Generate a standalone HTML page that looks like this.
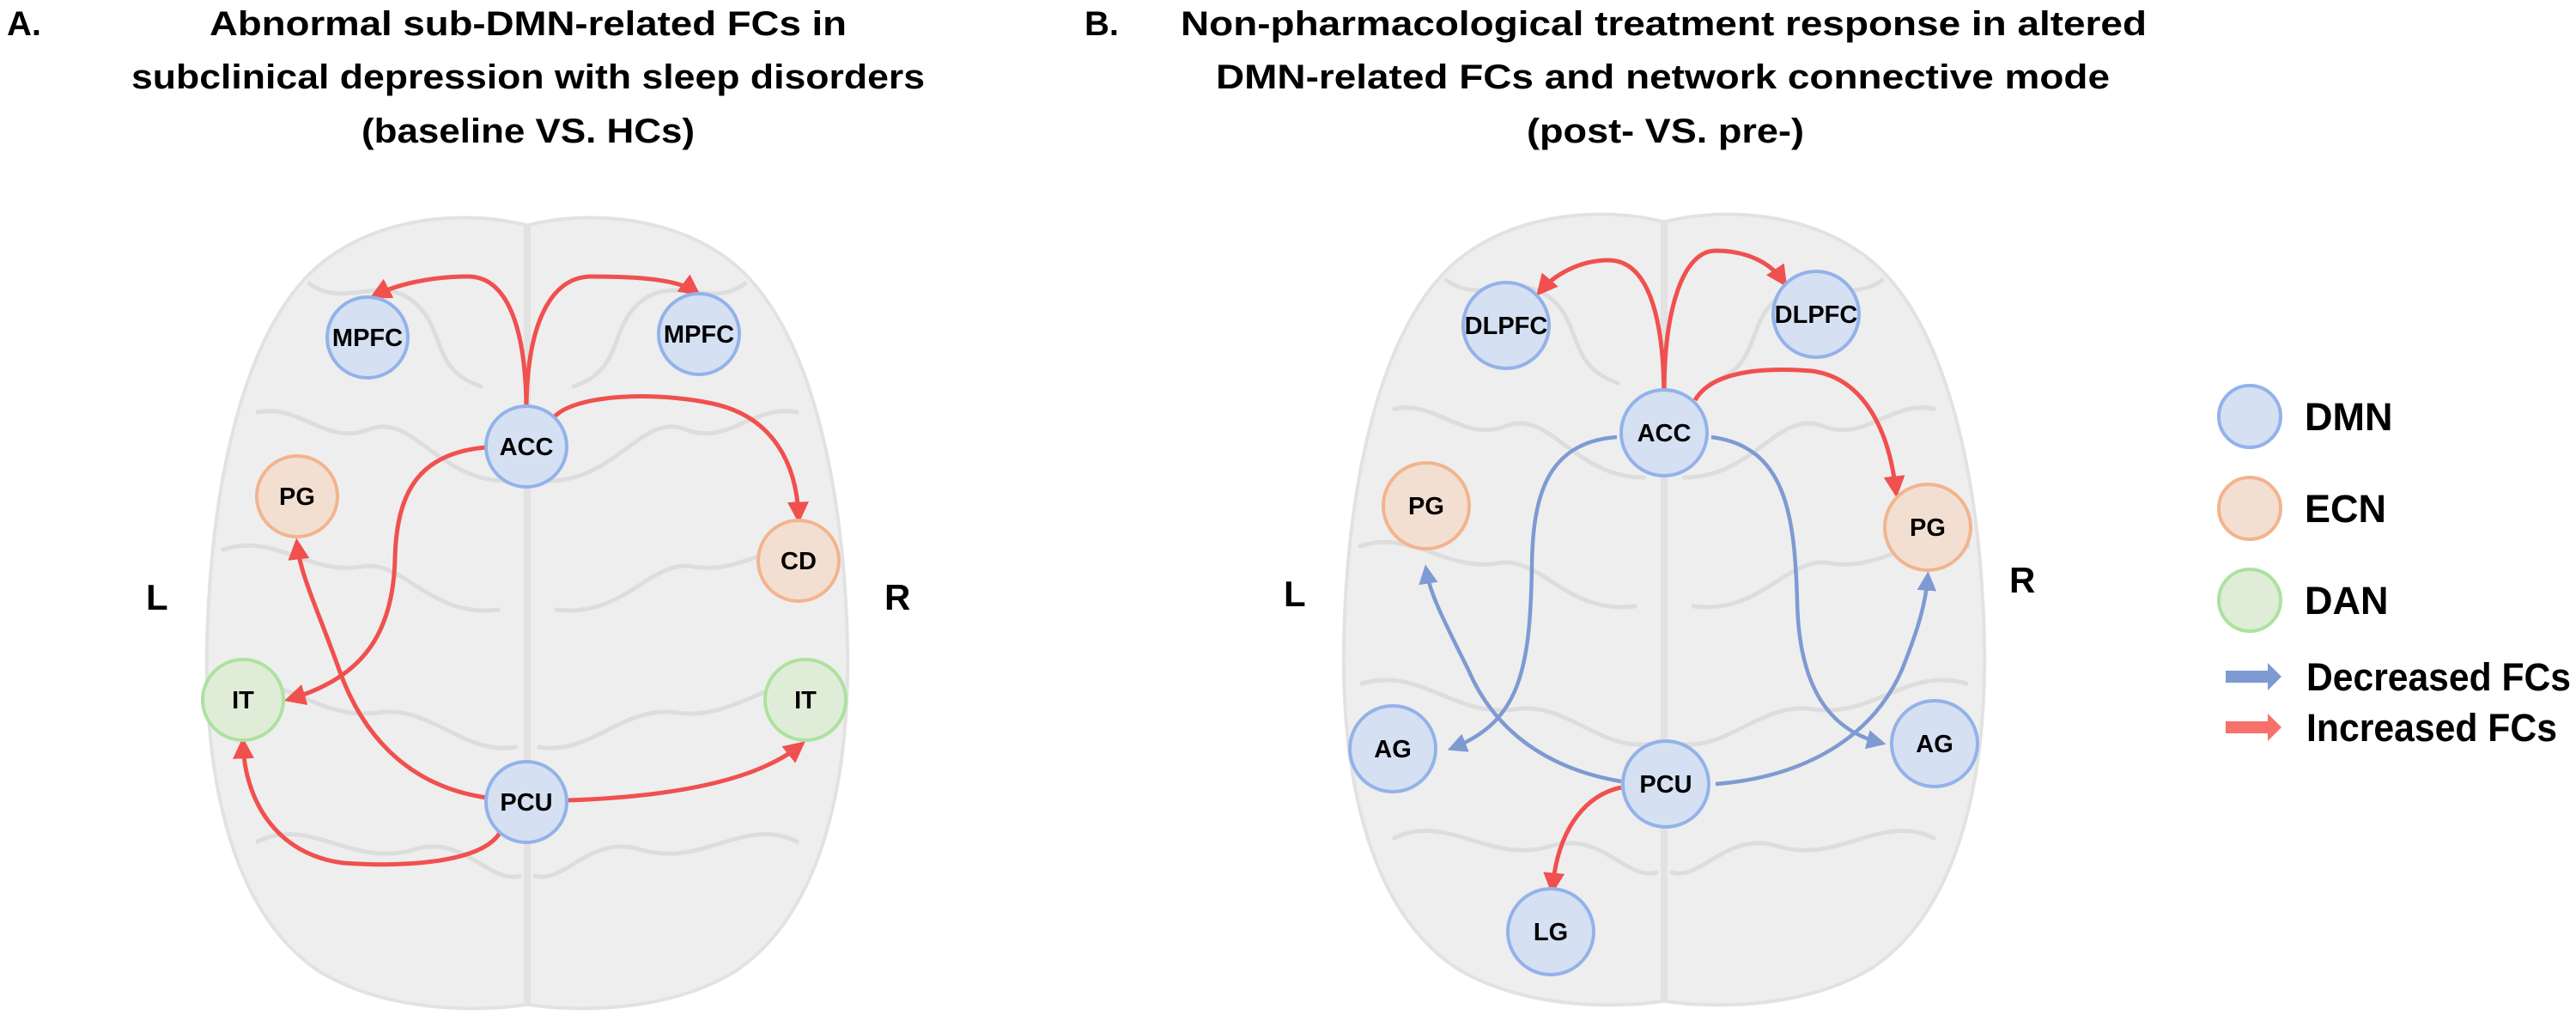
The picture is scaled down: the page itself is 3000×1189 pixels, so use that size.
<!DOCTYPE html>
<html><head><meta charset="utf-8"><style>
html,body{margin:0;padding:0;background:#fff;}
svg{display:block;}
text{font-family:"Liberation Sans",sans-serif;font-weight:bold;fill:#000;}
</style></head><body>
<svg width="3000" height="1189" viewBox="0 0 3000 1189" xmlns="http://www.w3.org/2000/svg">
<defs>
<marker id="ar" markerWidth="5" markerHeight="5" refX="3.5" refY="2.5" orient="auto" markerUnits="strokeWidth"><path d="M0,0 L5,2.5 L0,5 Z" fill="#f0504e"/></marker>
<marker id="ab" markerWidth="5" markerHeight="5" refX="3.5" refY="2.5" orient="auto" markerUnits="strokeWidth"><path d="M0,0 L5,2.5 L0,5 Z" fill="#7e9ad2"/></marker>
<g id="brain">
<path d="M612,262 C545,245 440,250 370,310 C290,380 250,540 242,720 C234,900 268,1060 370,1130 C450,1180 560,1178 612,1170 Z" fill="#eeeeee" stroke="#e2e2e2" stroke-width="4"/>
<path d="M616,262 C683,245 788,250 858,310 C938,380 978,540 986,720 C994,900 960,1060 858,1130 C778,1180 668,1178 616,1170 Z" fill="#eeeeee" stroke="#e2e2e2" stroke-width="4"/>
<g fill="none" stroke="#dddddd" stroke-width="5" stroke-linecap="round">
<path d="M360,330 C400,360 440,320 480,350 C520,380 500,430 560,450"/>
<path d="M300,480 C350,470 380,520 430,500 C480,480 510,560 590,560"/>
<path d="M260,640 C320,620 360,670 420,660 C470,650 500,720 580,710"/>
<path d="M262,800 C330,780 370,840 440,830 C500,820 540,880 600,870"/>
<path d="M300,980 C360,950 410,1010 480,990 C540,970 570,1030 605,1020"/>
<path d="M868,330 C828,360 788,320 748,350 C708,380 728,430 668,450"/>
<path d="M928,480 C878,470 848,520 798,500 C748,480 718,560 638,560"/>
<path d="M968,640 C908,620 868,670 808,660 C758,650 728,720 648,710"/>
<path d="M966,800 C898,780 858,840 788,830 C728,820 688,880 628,870"/>
<path d="M928,980 C868,950 818,1010 748,990 C688,970 658,1030 623,1020"/>
</g>
</g>
</defs>

<text x="8" y="41" font-size="40">A.</text>
<text x="244" y="41" font-size="40" textLength="742" lengthAdjust="spacingAndGlyphs">Abnormal sub-DMN-related FCs in</text>
<text x="153" y="103" font-size="40" textLength="924" lengthAdjust="spacingAndGlyphs">subclinical depression with sleep disorders</text>
<text x="421" y="166" font-size="40" textLength="388" lengthAdjust="spacingAndGlyphs">(baseline VS. HCs)</text>

<text x="1263" y="41" font-size="40">B.</text>
<text x="1375" y="41" font-size="40" textLength="1125" lengthAdjust="spacingAndGlyphs">Non-pharmacological treatment response in altered</text>
<text x="1416" y="103" font-size="40" textLength="1041" lengthAdjust="spacingAndGlyphs">DMN-related FCs and network connective mode</text>
<text x="1778" y="166" font-size="40" textLength="323" lengthAdjust="spacingAndGlyphs">(post- VS. pre-)</text>

<use href="#brain"/>
<use href="#brain" transform="translate(1324,-4)"/>

<text x="170" y="710" font-size="42">L</text>
<text x="1030" y="710" font-size="42">R</text>
<text x="1495" y="706" font-size="42">L</text>
<text x="2340" y="690" font-size="42">R</text>

<g fill="none" stroke="#f0504e" stroke-width="5" marker-end="url(#ar)">
<path d="M613,474 C612,380 590,322 545,322 C500,322 460,332 437,344"/>
<path d="M613,474 C614,380 640,322 689,322 C740,322 790,325 810,340"/>
<path d="M646,485 C670,460 760,455 830,470 C900,485 928,540 930,602"/>
<path d="M565,521 C490,528 462,570 460,650 C458,740 420,790 338,814"/>
<path d="M567,929 C470,915 420,850 395,780 C370,710 350,670 346,634"/>
<path d="M582,970 C560,1005 470,1010 400,1005 C320,995 285,930 283,866"/>
<path d="M660,932 C780,928 880,910 932,868"/>
</g>

<g fill="none" stroke="#7e9ad2" stroke-width="4.5" marker-end="url(#ab)">
<path d="M1883,509 C1800,515 1785,580 1784,660 C1782,780 1770,840 1692,871"/>
<path d="M1993,509 C2080,520 2090,600 2093,700 C2095,800 2130,850 2190,865"/>
<path d="M1888,910 C1800,895 1740,850 1710,780 C1680,720 1665,690 1661,664"/>
<path d="M1998,913 C2100,905 2180,860 2215,780 C2235,730 2243,700 2245,672"/>
</g>
<g fill="none" stroke="#f0504e" stroke-width="5" marker-end="url(#ar)">
<path d="M1938,459 C1937,370 1920,303 1873,303 C1840,303 1810,320 1794,339"/>
<path d="M1938,459 C1938,360 1960,292 1998,292 C2040,292 2065,310 2077,328"/>
<path d="M1974,466 C1995,430 2060,428 2110,432 C2170,440 2200,500 2208,572"/>
<path d="M1888,917 C1850,925 1815,960 1808,1034"/>
</g>

<g stroke-width="4">
<g fill="#d5e0f2" stroke="#93b2ea">
<circle cx="428" cy="393" r="47"/><circle cx="814" cy="389" r="47"/>
<circle cx="613" cy="520" r="47"/><circle cx="613" cy="934" r="47"/>
<circle cx="1754" cy="379" r="50"/><circle cx="2115" cy="366" r="50"/>
<circle cx="1938" cy="504" r="50"/><circle cx="1622" cy="872" r="50"/>
<circle cx="2253" cy="866" r="50"/><circle cx="1940" cy="913" r="50"/>
<circle cx="1806" cy="1085" r="50"/>
<circle cx="2620" cy="485" r="36"/>
</g>
<g fill="#f3dfd1" stroke="#f2b48e">
<circle cx="346" cy="578" r="47"/><circle cx="930" cy="653" r="47"/>
<circle cx="1661" cy="589" r="50"/><circle cx="2245" cy="614" r="50"/>
<circle cx="2620" cy="592" r="36"/>
</g>
<g fill="#dfedd8" stroke="#ace29e">
<circle cx="283" cy="815" r="47"/><circle cx="938" cy="815" r="47"/>
<circle cx="2620" cy="699" r="36"/>
</g>
</g>

<g font-size="29" text-anchor="middle">
<text x="428" y="403">MPFC</text><text x="814" y="399">MPFC</text>
<text x="613" y="530">ACC</text><text x="613" y="944">PCU</text>
<text x="346" y="588">PG</text><text x="930" y="663">CD</text>
<text x="283" y="825">IT</text><text x="938" y="825">IT</text>
<text x="1754" y="389">DLPFC</text><text x="2115" y="376">DLPFC</text>
<text x="1938" y="514">ACC</text><text x="1940" y="923">PCU</text>
<text x="1661" y="599">PG</text><text x="2245" y="624">PG</text>
<text x="1622" y="882">AG</text><text x="2253" y="876">AG</text>
<text x="1806" y="1095">LG</text>
</g>

<g font-size="45">
<text x="2684" y="501">DMN</text>
<text x="2684" y="608">ECN</text>
<text x="2684" y="715">DAN</text>
<text x="2686" y="804" textLength="308" lengthAdjust="spacingAndGlyphs">Decreased FCs</text>
<text x="2686" y="863" textLength="292" lengthAdjust="spacingAndGlyphs">Increased FCs</text>
</g>
<path d="M2592,781 L2641,781 L2641,772 L2657,788 L2641,804 L2641,795 L2592,795 Z" fill="#7e9ad2"/>
<path d="M2592,840 L2641,840 L2641,831 L2657,847 L2641,863 L2641,854 L2592,854 Z" fill="#f6706c"/>
</svg>
</body></html>
